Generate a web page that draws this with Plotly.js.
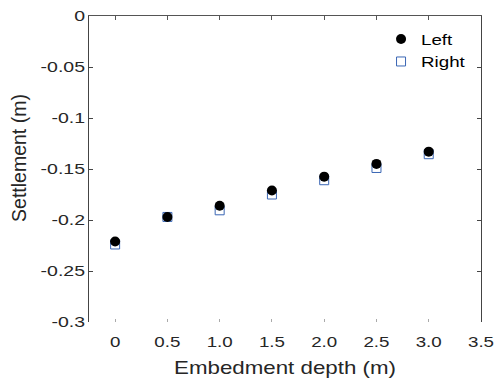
<!DOCTYPE html>
<html><head><meta charset="utf-8">
<script src="https://cdn.plot.ly/plotly-3.0.1.min.js"></script>
<style>html,body{margin:0;padding:0;background:#fff}#c{width:502px;height:378px}</style>
</head><body><div id="c"></div>
<script>
var depth = [0, 0.5, 1.0, 1.5, 2.0, 2.5, 3.0];
var leftSettle = [-0.221, -0.197, -0.186, -0.171, -0.1575, -0.145, -0.133];
var rightSettle = [-0.224, -0.197, -0.1905, -0.175, -0.161, -0.149, -0.1355];
var xTickVals = [0, 0.5, 1.0, 1.5, 2.0, 2.5, 3.0, 3.5];
var xTickText = ['0', '0.5', '1.0', '1.5', '2.0', '2.5', '3.0', '3.5'];
var yTickVals = [0, -0.05, -0.1, -0.15, -0.2, -0.25, -0.3];
var yTickText = ['0', '-0.05', '-0.1', '-0.15', '-0.2', '-0.25', '-0.3'];

var FAM = 'Liberation Sans, Arial, sans-serif';
var traces = [
  {x: depth, y: rightSettle, name: 'Right', type: 'scatter', mode: 'markers',
   marker: {symbol: 'square-open', size: 9, color: '#3a66b4', line: {width: 1}}},
  {x: depth, y: leftSettle, name: 'Left', type: 'scatter', mode: 'markers',
   marker: {symbol: 'circle', size: 10, color: '#000000'}},
  {x: [], y: [], xaxis: 'x2', showlegend: false, hoverinfo: 'skip'}
];
var layout = {
  width: 502, height: 378,
  margin: {l: 89, r: 21, t: 16, b: 56},
  paper_bgcolor: '#fff', plot_bgcolor: '#fff',
  font: {family: FAM, color: '#262626'},
  showlegend: true,
  legend: {x: 0.745, y: 0.978, xanchor: 'left', yanchor: 'top', traceorder: 'reversed',
           font: {size: 15, color: '#000', family: FAM},
           bgcolor: 'rgba(0,0,0,0)', itemwidth: 30, tracegroupgap: 0},
  xaxis: {range: [-0.25, 3.5], tickvals: xTickVals, ticktext: xTickText,
          showline: false, zeroline: false, showgrid: false,
          ticks: 'inside', ticklen: 3, tickcolor: '#aaa', tickwidth: 1,
          ticklabelstandoff: 9,
          tickfont: {size: 15, color: '#262626'},
          title: {text: 'Embedment depth (m)', font: {size: 18, color: '#262626'}, standoff: 13}},
  xaxis2: {range: [-0.25, 3.5], overlaying: 'x', side: 'top', tickvals: xTickVals,
           showticklabels: false, showline: true, linecolor: '#555', linewidth: 1,
           ticks: 'inside', ticklen: 4, tickcolor: '#555', showgrid: false, zeroline: false},
  yaxis: {range: [-0.3, 0], tickvals: yTickVals, ticktext: yTickText,
          showline: true, mirror: 'ticks', linecolor: '#444', linewidth: 1,
          ticks: 'inside', ticklen: 4, tickcolor: '#444',
          zeroline: false, showgrid: false,
          tickfont: {size: 15, color: '#262626'},
          title: {text: 'Settlement (m)', font: {size: 19.5, color: '#262626'}, standoff: 18}}
};

function stretch(sel, s) {
  document.querySelectorAll(sel).forEach(function (t) {
    var b = t.getBBox();
    var anchor = t.getAttribute('text-anchor') || 'start';
    var ax = anchor === 'end' ? b.x + b.width : (anchor === 'middle' ? b.x + b.width / 2 : b.x);
    var tr = t.getAttribute('transform') || '';
    t.setAttribute('transform', tr + ' translate(' + ax + ',0) scale(' + s + ',1) translate(' + (-ax) + ',0)');
  });
}

Plotly.newPlot('c', traces, layout, {displayModeBar: false, staticPlot: true}).then(function () {
  stretch('.xtick text', 1.25);
  stretch('.ytick text', 1.3);
  stretch('.g-xtitle text', 1.24);
  stretch('.legendtext', 1.25);
  document.querySelectorAll('.legend [clip-path]').forEach(function (el) {
    el.removeAttribute('clip-path');
  });
  var yt = document.querySelector('.g-ytitle');
  if (yt) yt.setAttribute('transform', 'translate(0,-11)');
});
</script></body></html>
